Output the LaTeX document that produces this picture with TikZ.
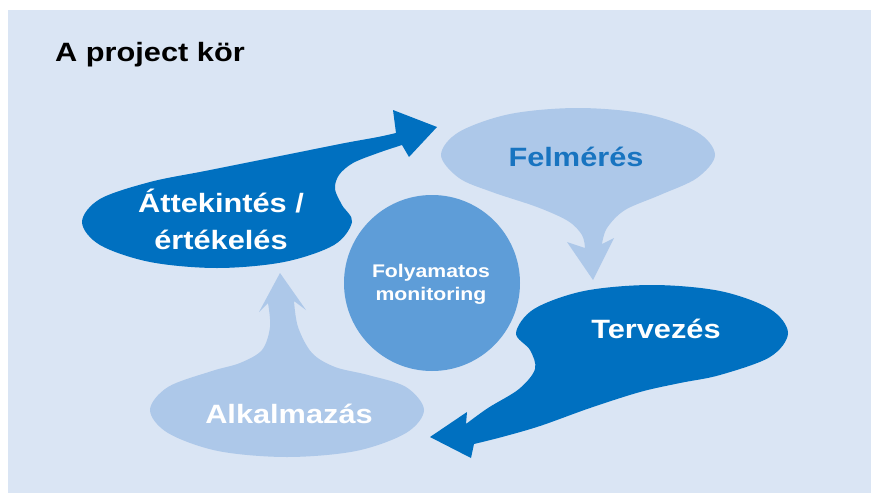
\documentclass[tikz,border=0pt]{standalone}
\usepackage{fontspec}
\setmainfont{Liberation Sans}[FakeStretch=1.16]
\definecolor{bgc}{HTML}{DAE5F4}
\definecolor{darkc}{HTML}{0070C0}
\definecolor{lightc}{HTML}{ADC8E9}
\definecolor{midc}{HTML}{5E9DD8}
\definecolor{ftextc}{HTML}{1874C0}
\begin{document}
\begin{tikzpicture}[x=1pt,y=-1pt,
  lbl/.style={font=\fontsize{26.5}{37}\selectfont\bfseries, text=white, inner sep=0pt, align=center},
  small/.style={font=\fontsize{18.3}{23}\selectfont\bfseries, text=white, inner sep=0pt, align=center},
  title/.style={font=\fontsize{26.5}{30}\selectfont\bfseries, text=black, inner sep=0pt},
  smoothpath/.style={smooth, tension=0.55}]
\useasboundingbox (0,0) rectangle (871,493);
\fill[bgc] (8,10) rectangle (871,493);

% Felmeres (light, funnel down)
\fill[lightc] plot[smoothpath] coordinates {(602,244) (607,228) (625,210) (660,195) (697,178) (715,155) (697,132) (646,114) (578,108) (510,114) (459,132) (441,155) (459,178) (492,192) (537,207) (568,221) (582,235) (585,248)}
  -- (567,242) -- (593,280) -- (614,238) -- cycle;

% Alkalmazas (light, funnel up)
\fill[lightc] plot[smoothpath] coordinates {(268,303) (270,327) (262,350) (240,363) (212,371) (168,387) (150,410) (168,433) (218,451) (287,457) (356,451) (406,433) (424,410) (406,387) (368,375) (335,367) (312,353) (298,327) (294,301)}
  -- (306,310) -- (280,273) -- (259,312) -- cycle;

% Circle
\fill[midc] (432,283) circle[radius=88];

% Attekintes (dark, arrow to upper right)
\fill[darkc] plot[smoothpath] coordinates {(402,145) (378,153) (353,163) (339,175) (335,189) (342,205) (352,222) (334,245) (284,262) (217,268) (150,262) (100,245) (82,222) (100,199) (150,182) (205,171) (260,160) (305,151) (345,143) (378,137) (396,133)}
  -- (393,110) -- (437,127) -- (409,157) -- cycle;

% Tervezes (dark, arrow to lower left)
\fill[darkc] plot[smoothpath] coordinates {(466,424) (488,408) (519,389) (535,369) (530,350) (516,333) (534,309) (584,291) (652,285) (720,291) (770,309) (788,333) (770,357) (720,375) (680,383) (640,392) (590,408) (540,426) (502,437) (474,444)}
  -- (471,458) -- (430,437) -- (467,412) -- cycle;

% Texts
\node[title, anchor=base west] (ttl) at (55,61) {A project kör};
\node[lbl] (att) at (221,219) {Áttekintés /\\értékelés};
\node[lbl, text=ftextc, anchor=base] (fel) at (576,166) {Felmérés};
\node[lbl, anchor=base] (ter) at (656,338) {Tervezés};
\node[lbl, anchor=base] (alk) at (289,423) {Alkalmazás};
\node[small] (mon) at (431,284) {Folyamatos\\monitoring};
\end{tikzpicture}
\end{document}
